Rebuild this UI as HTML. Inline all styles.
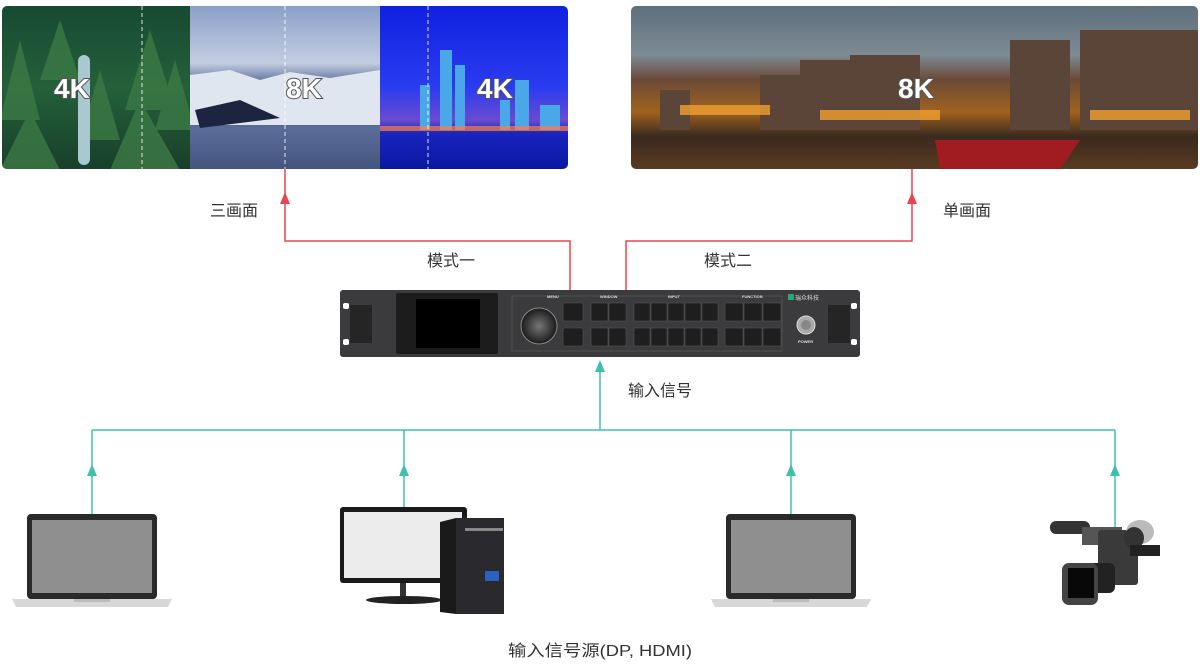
<!DOCTYPE html>
<html><head><meta charset="utf-8"><style>
html,body{margin:0;padding:0;background:#fff;width:1200px;height:666px;overflow:hidden}
svg text{font-family:"Liberation Sans","Noto Sans CJK SC",sans-serif}
</style></head><body>
<svg width="1200" height="666" viewBox="0 0 1200 666" xmlns="http://www.w3.org/2000/svg">
<defs>
<linearGradient id="forest" x1="0" y1="0" x2="0" y2="1"><stop offset="0" stop-color="#174a32"/><stop offset="0.5" stop-color="#24603a"/><stop offset="1" stop-color="#183f2a"/></linearGradient>
<linearGradient id="snow" x1="0" y1="0" x2="0" y2="1"><stop offset="0" stop-color="#8aa0c8"/><stop offset="0.35" stop-color="#c3cde0"/><stop offset="0.45" stop-color="#6f7ea8"/><stop offset="0.6" stop-color="#3c4c78"/><stop offset="0.75" stop-color="#5a6d98"/><stop offset="1" stop-color="#44557f"/></linearGradient>
<linearGradient id="city" x1="0" y1="0" x2="0" y2="1"><stop offset="0" stop-color="#1020e0"/><stop offset="0.5" stop-color="#2a3cf0"/><stop offset="0.7" stop-color="#6a4bd0"/><stop offset="0.78" stop-color="#1a24c0"/><stop offset="1" stop-color="#0a18a0"/></linearGradient>
<linearGradient id="harbor" x1="0" y1="0" x2="0" y2="1"><stop offset="0" stop-color="#5e6f7c"/><stop offset="0.3" stop-color="#7d8b94"/><stop offset="0.45" stop-color="#6a4a38"/><stop offset="0.65" stop-color="#a0621e"/><stop offset="0.8" stop-color="#3a2a1e"/><stop offset="1" stop-color="#5a3a20"/></linearGradient>
<radialGradient id="knob"><stop offset="0" stop-color="#777"/><stop offset="1" stop-color="#1a1a1a"/></radialGradient>
<clipPath id="c1"><rect x="2" y="6" width="566" height="163" rx="5"/></clipPath>
<clipPath id="c2"><rect x="631" y="6" width="567" height="163" rx="5"/></clipPath>
</defs>

<g clip-path="url(#c1)">
<rect x="2" y="6" width="188" height="163" fill="url(#forest)"/>
<g fill="#3d7a45" opacity="0.8"><path d="M20 40 L40 120 L0 120Z"/><path d="M150 30 L175 110 L125 110Z"/><path d="M30 110 L60 170 L0 170Z"/><path d="M140 100 L180 170 L110 170Z"/><path d="M100 70 L120 140 L80 140Z"/><path d="M60 20 L80 80 L40 80Z"/><path d="M175 60 L195 130 L155 130Z"/></g>
<rect x="78" y="55" width="12" height="110" rx="6" fill="#a9c8d0"/>
<rect x="190" y="6" width="190" height="163" fill="url(#snow)"/>
<path d="M190 75 L230 70 L260 80 L290 72 L330 78 L380 70 L380 125 L190 125Z" fill="#dfe6f0"/>
<path d="M195 110 L240 100 L280 118 L200 128Z" fill="#1c2440"/>
<rect x="380" y="6" width="188" height="163" fill="url(#city)"/>
<g fill="#4aa8e8"><rect x="440" y="50" width="12" height="80"/><rect x="455" y="65" width="10" height="65"/><rect x="420" y="85" width="10" height="45"/><rect x="515" y="80" width="14" height="50"/><rect x="500" y="100" width="10" height="30"/><rect x="540" y="105" width="20" height="25"/></g>
<rect x="380" y="126" width="188" height="5" fill="#ff8040" opacity="0.7"/>
<g stroke="#fff" stroke-width="1" stroke-dasharray="4,3" opacity="0.85"><line x1="142" y1="6" x2="142" y2="169"/><line x1="285" y1="6" x2="285" y2="169"/><line x1="428" y1="6" x2="428" y2="169"/></g>
<g font-size="28" font-weight="bold" fill="#fff" stroke="#555" stroke-width="2" paint-order="stroke"><text x="54" y="98">4K</text><text x="286" y="98">8K</text><text x="477" y="98">4K</text></g>
</g>

<g clip-path="url(#c2)">
<rect x="631" y="6" width="567" height="163" fill="url(#harbor)"/>
<g fill="#5a4538"><rect x="660" y="90" width="30" height="40"/><rect x="760" y="75" width="40" height="55"/><rect x="800" y="60" width="50" height="70"/><rect x="850" y="55" width="70" height="75"/><rect x="1010" y="40" width="60" height="90"/><rect x="1080" y="30" width="118" height="100"/></g>
<g fill="#f0a030" opacity="0.8"><rect x="680" y="105" width="90" height="10"/><rect x="820" y="110" width="120" height="10"/><rect x="1090" y="110" width="100" height="10"/></g>
<path d="M935 140 L1080 140 L1060 169 L940 169Z" fill="#a01c20"/>
<g font-size="28" font-weight="bold" fill="#fff" stroke="#555" stroke-width="2" paint-order="stroke"><text x="898" y="98">8K</text></g>
</g>

<g stroke="#e8454f" stroke-width="1.5" fill="none"><polyline points="285,200 285,241 570,241 570,290"/><polyline points="626,290 626,241 912,241 912,200"/><line x1="285" y1="169" x2="285" y2="200"/><line x1="912" y1="169" x2="912" y2="200"/></g>
<path d="M285 192 L280 204 L290 204Z" fill="#e8454f"/>
<path d="M912 192 L907 204 L917 204Z" fill="#e8454f"/>

<g font-size="16" fill="#333"><text x="210" y="216">三画面</text><text x="943" y="216">单画面</text><text x="427" y="266">模式一</text><text x="704" y="266">模式二</text><text x="628" y="396">输入信号</text><text x="508" y="656" textLength="184" lengthAdjust="spacingAndGlyphs">输入信号源(DP, HDMI)</text></g>

<rect x="340" y="290" width="520" height="67" rx="3" fill="#3b3b3d"/>
<rect x="350" y="305" width="22" height="38" fill="#252525"/><rect x="828" y="305" width="22" height="38" fill="#252525"/>
<rect x="343" y="303" width="6" height="6" rx="2" fill="#fff"/><rect x="343" y="339" width="6" height="6" rx="2" fill="#fff"/>
<rect x="851" y="303" width="6" height="6" rx="2" fill="#fff"/><rect x="851" y="339" width="6" height="6" rx="2" fill="#fff"/>
<rect x="396" y="293" width="102" height="61" rx="2" fill="#1c1c1c"/><rect x="416" y="299" width="64" height="49" fill="#000"/>
<rect x="512" y="296" width="270" height="55" fill="none" stroke="#555" stroke-width="0.8"/>
<circle cx="539" cy="326" r="18" fill="url(#knob)" stroke="#888"/>
<g fill="#1e1e1e" stroke="#555" stroke-width="0.6">
<rect x="563" y="303" width="20" height="18" rx="2"/><rect x="563" y="328" width="20" height="18" rx="2"/>
<rect x="591" y="303" width="17" height="18"/><rect x="609" y="303" width="17" height="18"/><rect x="591" y="328" width="17" height="18"/><rect x="609" y="328" width="17" height="18"/>
<rect x="634" y="303" width="16" height="18"/><rect x="651" y="303" width="16" height="18"/><rect x="668" y="303" width="16" height="18"/><rect x="685" y="303" width="16" height="18"/><rect x="702" y="303" width="16" height="18"/>
<rect x="634" y="328" width="16" height="18"/><rect x="651" y="328" width="16" height="18"/><rect x="668" y="328" width="16" height="18"/><rect x="685" y="328" width="16" height="18"/><rect x="702" y="328" width="16" height="18"/>
<rect x="725" y="303" width="18" height="18"/><rect x="744" y="303" width="18" height="18"/><rect x="763" y="303" width="18" height="18"/>
<rect x="725" y="328" width="18" height="18"/><rect x="744" y="328" width="18" height="18"/><rect x="763" y="328" width="18" height="18"/>
</g>
<g font-size="4" fill="#ddd" font-weight="bold"><text x="547" y="298">MENU</text><text x="600" y="298">WINDOW</text><text x="668" y="298">INPUT</text><text x="742" y="298">FUNCTION</text><text x="798" y="343">POWER</text></g>
<rect x="788" y="294" width="6" height="6" fill="#2a7"/><text x="795" y="300" font-size="6" fill="#ddd">瑞众科技</text>
<circle cx="806" cy="325" r="9" fill="#aaa" stroke="#ddd"/><circle cx="806" cy="325" r="5" fill="#888"/>

<g stroke="#3cc2a8" stroke-width="1.5" fill="none"><line x1="600" y1="370" x2="600" y2="430"/><line x1="92" y1="430" x2="1115" y2="430"/>
<line x1="92" y1="430" x2="92" y2="514"/><line x1="404" y1="430" x2="404" y2="507"/><line x1="791" y1="430" x2="791" y2="514"/><line x1="1115" y1="430" x2="1115" y2="528"/></g>
<g fill="#3cc2a8"><path d="M600 360 L595 372 L605 372Z"/><path d="M92 464 L87 476 L97 476Z"/><path d="M404 464 L399 476 L409 476Z"/><path d="M791 464 L786 476 L796 476Z"/><path d="M1115 464 L1110 476 L1120 476Z"/></g>

<g id="lap">
<rect x="27" y="514" width="130" height="85" rx="4" fill="#2a2a2a"/>
<rect x="32" y="520" width="120" height="73" fill="#8f8f8f"/>
<path d="M12 599 L172 599 L168 607 L16 607Z" fill="#d8d8d8"/>
<rect x="74" y="599" width="36" height="3" fill="#bbb"/>
</g>
<use href="#lap" x="699"/>

<rect x="340" y="507" width="127" height="76" rx="3" fill="#1a1a1a"/>
<rect x="344" y="512" width="118" height="66" fill="#ececec"/>
<rect x="400" y="583" width="6" height="14" fill="#333"/>
<ellipse cx="404" cy="600" rx="38" ry="4" fill="#222"/>
<rect x="456" y="518" width="48" height="96" fill="#2a2a2e"/><path d="M440 522 L456 518 L456 614 L440 612Z" fill="#1a1a1a"/>
<rect x="465" y="528" width="38" height="3" fill="#888"/>
<rect x="485" y="571" width="14" height="10" fill="#2b62c0"/>

<rect x="1050" y="521" width="40" height="13" rx="6" fill="#333"/>
<rect x="1082" y="527" width="40" height="18" fill="#555"/>
<rect x="1098" y="530" width="40" height="55" rx="3" fill="#3a3a3a"/>
<ellipse cx="1140" cy="532" rx="14" ry="12" fill="#bbb"/><ellipse cx="1134" cy="538" rx="10" ry="11" fill="#333"/>
<rect x="1130" y="545" width="30" height="11" fill="#222"/>
<rect x="1075" y="563" width="40" height="30" rx="6" fill="#222"/>
<rect x="1062" y="563" width="36" height="42" rx="7" fill="#444"/><rect x="1068" y="568" width="26" height="30" fill="#080808"/>
</svg>
</body></html>
